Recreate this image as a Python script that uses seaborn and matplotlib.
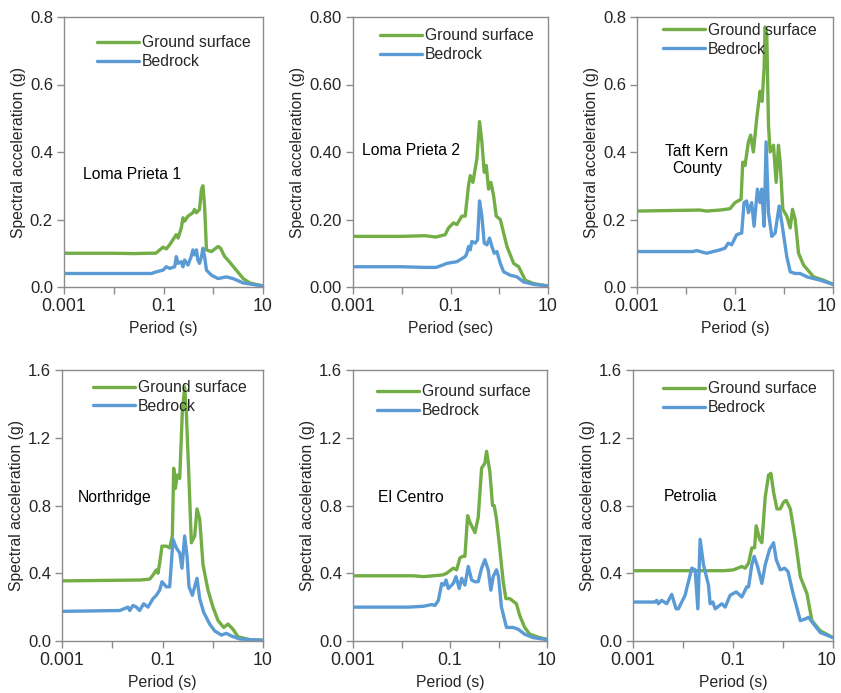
import matplotlib
matplotlib.use("Agg")
import matplotlib.pyplot as plt
import matplotlib.ticker as mticker
import matplotlib.transforms as mtransforms
import seaborn as sns
import numpy as np

sns.set_theme(style="white")
plt.rcParams['font.family'] = ['Liberation Sans', 'DejaVu Sans']

GREEN = "#72AE45"
BLUE = "#5B9BD5"

# ---------------- data ----------------
# Loma Prieta 1
lp1_ground_T = [0.001, 0.01, 0.025, 0.05, 0.07, 0.098, 0.114, 0.133, 0.18, 0.196, 0.228, 0.246, 0.266, 0.31, 0.39, 0.42, 0.46, 0.53, 0.58, 0.62, 0.67, 0.73, 0.92, 1.25, 1.4, 1.7, 2.1, 2.9, 4.0, 5.4, 10]
lp1_ground_S = [0.10, 0.10, 0.099, 0.10, 0.10, 0.118, 0.113, 0.125, 0.155, 0.145, 0.175, 0.205, 0.195, 0.21, 0.22, 0.23, 0.22, 0.23, 0.29, 0.30, 0.24, 0.11, 0.105, 0.12, 0.115, 0.09, 0.075, 0.05, 0.025, 0.012, 0.003]
lp1_bed_T = [0.001, 0.057, 0.072, 0.098, 0.114, 0.133, 0.168, 0.181, 0.196, 0.228, 0.246, 0.266, 0.31, 0.36, 0.39, 0.42, 0.46, 0.49, 0.53, 0.58, 0.62, 0.67, 0.73, 0.92, 1.25, 1.83, 2.5, 4.0, 10]
lp1_bed_S = [0.04, 0.04, 0.045, 0.05, 0.06, 0.055, 0.06, 0.09, 0.07, 0.075, 0.06, 0.08, 0.065, 0.09, 0.11, 0.095, 0.11, 0.08, 0.07, 0.09, 0.115, 0.09, 0.05, 0.035, 0.025, 0.03, 0.025, 0.012, 0.003]

# Loma Prieta 2
lp2_ground_T = [0.001, 0.01, 0.03, 0.05, 0.078, 0.091, 0.115, 0.135, 0.171, 0.200, 0.234, 0.254, 0.288, 0.348, 0.394, 0.440, 0.492, 0.541, 0.604, 0.675, 0.766, 0.868, 1.05, 1.44, 1.97, 2.5, 3.42, 5.07, 10]
lp2_ground_S = [0.15, 0.15, 0.152, 0.148, 0.155, 0.175, 0.19, 0.185, 0.21, 0.21, 0.30, 0.33, 0.31, 0.38, 0.49, 0.43, 0.34, 0.36, 0.29, 0.31, 0.27, 0.21, 0.20, 0.12, 0.07, 0.06, 0.02, 0.01, 0.003]
lp2_bed_T = [0.001, 0.01, 0.03, 0.05, 0.061, 0.084, 0.135, 0.200, 0.217, 0.234, 0.254, 0.274, 0.321, 0.359, 0.394, 0.440, 0.492, 0.559, 0.633, 0.707, 0.789, 0.895, 1.05, 1.23, 1.68, 2.31, 3.16, 5.07, 10]
lp2_bed_S = [0.06, 0.06, 0.058, 0.058, 0.062, 0.07, 0.075, 0.09, 0.10, 0.12, 0.11, 0.135, 0.13, 0.14, 0.255, 0.21, 0.13, 0.125, 0.145, 0.12, 0.10, 0.105, 0.07, 0.045, 0.035, 0.03, 0.015, 0.008, 0.003]

# Taft Kern County
tk_ground_T = [0.001, 0.0192, 0.0263, 0.0493, 0.079, 0.100, 0.133, 0.144, 0.160, 0.188, 0.209, 0.237, 0.278, 0.325, 0.357, 0.393, 0.411, 0.445, 0.482, 0.521, 0.610, 0.692, 0.771, 0.835, 0.946, 1.14, 1.34, 1.49, 1.69, 1.98, 2.51, 4.02, 6.44, 10]
tk_ground_S = [0.225, 0.228, 0.225, 0.228, 0.232, 0.25, 0.26, 0.37, 0.36, 0.43, 0.45, 0.40, 0.50, 0.58, 0.55, 0.65, 0.77, 0.75, 0.48, 0.40, 0.42, 0.31, 0.42, 0.37, 0.23, 0.21, 0.175, 0.23, 0.20, 0.10, 0.065, 0.03, 0.02, 0.008]
tk_bed_T = [0.001, 0.014, 0.0164, 0.0263, 0.0493, 0.0624, 0.073, 0.0855, 0.108, 0.137, 0.153, 0.173, 0.188, 0.219, 0.245, 0.287, 0.325, 0.351, 0.393, 0.432, 0.482, 0.564, 0.660, 0.796, 0.903, 1.14, 1.34, 1.69, 2.14, 2.94, 5.5, 10]
tk_bed_S = [0.105, 0.105, 0.108, 0.10, 0.11, 0.115, 0.13, 0.125, 0.155, 0.16, 0.25, 0.255, 0.22, 0.25, 0.18, 0.29, 0.25, 0.29, 0.18, 0.43, 0.22, 0.15, 0.16, 0.24, 0.19, 0.09, 0.045, 0.04, 0.04, 0.03, 0.02, 0.008]

# Northridge
nr_ground_T = [0.001, 0.0351, 0.0556, 0.0648, 0.0754, 0.0813, 0.0878, 0.0977, 0.119, 0.139, 0.157, 0.167, 0.180, 0.197, 0.220, 0.248, 0.276, 0.298, 0.332, 0.375, 0.437, 0.486, 0.550, 0.640, 0.804, 1.01, 1.28, 1.65, 2.01, 2.52, 3.17, 5.41, 10]
nr_ground_S = [0.355, 0.36, 0.365, 0.39, 0.42, 0.40, 0.46, 0.56, 0.56, 0.55, 0.62, 1.02, 0.90, 0.98, 0.96, 1.35, 1.50, 1.35, 1.0, 0.58, 0.62, 0.78, 0.72, 0.45, 0.30, 0.20, 0.12, 0.08, 0.10, 0.07, 0.025, 0.008, 0.005]
nr_bed_T = [0.001, 0.0141, 0.0206, 0.0222, 0.0259, 0.0302, 0.0351, 0.0422, 0.0514, 0.0648, 0.0754, 0.0878, 0.0977, 0.119, 0.139, 0.162, 0.188, 0.220, 0.244, 0.276, 0.308, 0.337, 0.393, 0.486, 0.550, 0.659, 0.868, 1.09, 1.48, 1.86, 2.34, 3.42, 10]
nr_bed_S = [0.175, 0.18, 0.20, 0.18, 0.21, 0.20, 0.18, 0.22, 0.20, 0.25, 0.27, 0.30, 0.35, 0.32, 0.32, 0.60, 0.55, 0.52, 0.43, 0.62, 0.50, 0.32, 0.27, 0.37, 0.25, 0.17, 0.10, 0.06, 0.035, 0.045, 0.03, 0.012, 0.003]

# El Centro
ec_ground_T = [0.001, 0.0177, 0.0283, 0.0455, 0.0707, 0.0855, 0.117, 0.137, 0.160, 0.182, 0.203, 0.231, 0.258, 0.327, 0.382, 0.448, 0.524, 0.567, 0.663, 0.753, 0.815, 0.910, 1.06, 1.25, 1.42, 1.71, 2.34, 2.74, 3.47, 4.40, 7.06, 10]
ec_ground_S = [0.385, 0.385, 0.38, 0.385, 0.39, 0.40, 0.43, 0.42, 0.49, 0.50, 0.50, 0.74, 0.70, 0.64, 0.73, 1.02, 1.05, 1.12, 1.0, 0.80, 0.80, 0.72, 0.55, 0.35, 0.25, 0.25, 0.22, 0.15, 0.08, 0.04, 0.02, 0.01]
ec_bed_T = [0.001, 0.0139, 0.0283, 0.042, 0.0492, 0.0576, 0.0675, 0.0754, 0.0828, 0.0925, 0.117, 0.133, 0.155, 0.174, 0.203, 0.238, 0.279, 0.327, 0.382, 0.448, 0.524, 0.614, 0.696, 0.776, 0.910, 1.0, 1.15, 1.46, 2.0, 2.53, 3.47, 5.15, 10]
ec_bed_S = [0.20, 0.20, 0.205, 0.215, 0.21, 0.24, 0.34, 0.33, 0.36, 0.31, 0.34, 0.38, 0.31, 0.37, 0.33, 0.44, 0.36, 0.35, 0.35, 0.43, 0.48, 0.42, 0.30, 0.38, 0.42, 0.38, 0.20, 0.08, 0.08, 0.07, 0.04, 0.02, 0.008]

# Petrolia
pt_ground_T = [0.001, 0.0646, 0.102, 0.150, 0.175, 0.205, 0.238, 0.270, 0.291, 0.340, 0.378, 0.441, 0.514, 0.573, 0.647, 0.755, 0.881, 1.03, 1.16, 1.40, 1.76, 2.22, 3.01, 3.79, 5.57, 10]
pt_ground_S = [0.415, 0.415, 0.42, 0.44, 0.43, 0.46, 0.55, 0.55, 0.68, 0.60, 0.58, 0.85, 0.98, 0.99, 0.88, 0.78, 0.78, 0.82, 0.83, 0.78, 0.60, 0.38, 0.28, 0.12, 0.06, 0.02]
pt_bed_T = [0.001, 0.00255, 0.00276, 0.00298, 0.00322, 0.00375, 0.00472, 0.00595, 0.00727, 0.00809, 0.0110, 0.0150, 0.0175, 0.0198, 0.0220, 0.0257, 0.0323, 0.0349, 0.0395, 0.0440, 0.0597, 0.0697, 0.0877, 0.116, 0.150, 0.189, 0.205, 0.238, 0.265, 0.310, 0.378, 0.441, 0.538, 0.647, 0.733, 0.881, 1.08, 1.26, 1.59, 2.22, 2.79, 3.25, 4.10, 5.57, 10]
pt_bed_S = [0.23, 0.23, 0.23, 0.24, 0.22, 0.24, 0.22, 0.275, 0.19, 0.19, 0.27, 0.43, 0.42, 0.19, 0.60, 0.45, 0.33, 0.22, 0.23, 0.19, 0.22, 0.20, 0.27, 0.29, 0.26, 0.32, 0.32, 0.45, 0.50, 0.44, 0.34, 0.45, 0.54, 0.58, 0.48, 0.42, 0.43, 0.41, 0.28, 0.12, 0.13, 0.14, 0.10, 0.05, 0.02]

names = ["Loma Prieta 1", "Loma Prieta 2", "Taft Kern\nCounty", "Northridge", "El Centro", "Petrolia"]
xlabels = ["Period (s)", "Period (sec)", "Period (s)", "Period (s)", "Period (s)", "Period (s)"]
ylabel = "Spectral acceleration (g)"
series_labels = ["Ground surface", "Bedrock"]
x_tick_vals = [0.001, 0.01, 0.1, 1, 10]
x_tick_labels = ["0.001", "", "0.1", "", "10"]
y_ticks_top = [0.0, 0.2, 0.4, 0.6, 0.8]
y_ticks_bottom = [0.0, 0.4, 0.8, 1.2, 1.6]

panels = [
    (lp1_ground_T, lp1_ground_S, lp1_bed_T, lp1_bed_S),
    (lp2_ground_T, lp2_ground_S, lp2_bed_T, lp2_bed_S),
    (tk_ground_T, tk_ground_S, tk_bed_T, tk_bed_S),
    (nr_ground_T, nr_ground_S, nr_bed_T, nr_bed_S),
    (ec_ground_T, ec_ground_S, ec_bed_T, ec_bed_S),
    (pt_ground_T, pt_ground_S, pt_bed_T, pt_bed_S),
]

# ---------------- layout (pixels) ----------------
W, H = 841, 693
boxes = [(64, 17, 199, 270), (353, 17, 195, 270), (637, 17, 196, 270),
         (62, 370, 201, 271), (353, 370, 194, 271), (633, 370, 200, 271)]
legend_anchor = [(0.166, 0.933), (0.138, 0.959), (0.133, 0.978),
                 (0.154, 0.963), (0.124, 0.948), (0.15, 0.959)]
name_pos = [(0.095, 0.415, "left"), (0.046, 0.507, "left"), (0.306, 0.47, "center"),
            (0.08, 0.531, "left"), (0.129, 0.531, "left"), (0.155, 0.535, "left")]
yfmt = ["%.1f", "%.2f", "%.1f", "%.1f", "%.1f", "%.1f"]

fig = plt.figure(figsize=(W / 100, H / 100), dpi=100)
fig.patch.set_facecolor("white")
SPINE = "#8C8C8C"

for i, (gT, gS, bT, bS) in enumerate(panels):
    l, t, w, h = boxes[i]
    ax = fig.add_axes([l / W, 1 - (t + h) / H, w / W, h / H])
    sns.lineplot(x=gT, y=gS, ax=ax, color=GREEN, linewidth=2.4, label=series_labels[0])
    sns.lineplot(x=bT, y=bS, ax=ax, color=BLUE, linewidth=2.4, label=series_labels[1])
    ax.set_xscale("log")
    ax.set_xlim(0.001, 10)
    if i < 3:
        ax.set_ylim(0, 0.8)
        ax.set_yticks(y_ticks_top)
    else:
        ax.set_ylim(0, 1.6)
        ax.set_yticks(y_ticks_bottom)
    ax.yaxis.set_major_formatter(mticker.FormatStrFormatter(yfmt[i]))
    ax.set_xticks(x_tick_vals)
    ax.set_xticklabels(x_tick_labels)
    ax.xaxis.set_minor_locator(mticker.LogLocator(base=10, subs=np.arange(2, 10)))
    ax.xaxis.set_minor_formatter(mticker.NullFormatter())
    ax.tick_params(axis="x", which="major", direction="out", length=5, width=1,
                   color=SPINE, labelsize=12.8, pad=3, bottom=True)
    ax.tick_params(axis="x", which="minor", direction="out", length=3.5, width=0.8,
                   color=SPINE, bottom=True)
    ax.tick_params(axis="y", which="major", direction="out", length=5, width=1,
                   color=SPINE, labelsize=12, pad=3, left=True)
    for s in ax.spines.values():
        s.set_visible(True)
        s.set_color(SPINE)
        s.set_linewidth(1.0)
    ax.set_xlabel(xlabels[i], fontsize=11.3, labelpad=4)
    ax.set_ylabel(ylabel, fontsize=11.3, labelpad=3)
    ax.grid(False)
    lx, ly = legend_anchor[i]
    ax.legend(loc="upper left", bbox_to_anchor=(lx, ly), frameon=False,
              fontsize=11.3, handlelength=2.7, handletextpad=0.15,
              labelspacing=0.25, borderpad=0, borderaxespad=0)
    nx, ny, ha = name_pos[i]
    ax.text(nx, ny, names[i], transform=ax.transAxes, ha=ha, va="center",
            fontsize=11.3, color="black", linespacing=1.1)
    if i in (2, 5):
        lab = ax.get_xticklabels()[-1]
        lab.set_transform(lab.get_transform() +
                          mtransforms.ScaledTranslation(-6 / 100, 0, fig.dpi_scale_trans))

fig.savefig("out.png", dpi=100, facecolor="white")
